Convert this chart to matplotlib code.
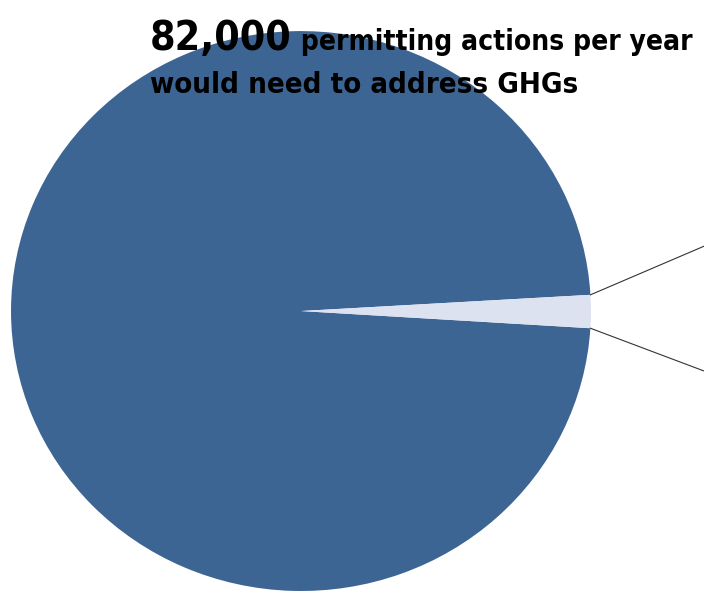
import matplotlib
matplotlib.use("Agg")
import matplotlib.pyplot as plt
from matplotlib import font_manager
import numpy as np

# pie data (share of permitting actions)
labels = ["Other actions", "Addressed"]
values = [98.1, 1.9]
colors = ["#3D6594", "#DCE2F0"]

headline_number = "82,000"
headline_rest = " permitting actions per year"
headline_line2 = "would need to address GHGs"

# prefer a condensed bold face if one is installed
fp = font_manager.FontProperties(family="DejaVu Sans", stretch="condensed",
                                 weight="bold")
path = font_manager.findfont(fp, fallback_to_default=True)
if "Condensed" in path:
    head_font = dict(family="DejaVu Sans", fontstretch="condensed")
else:
    head_font = dict(family="Liberation Sans")

fig = plt.figure(figsize=(7.04, 5.91), dpi=100)
ax = fig.add_axes([0, 0, 1, 1])

# small slice centred slightly below horizontal, on the right
start = values[1] / 100 * 360 / 2 - 0.1
wedges, _ = ax.pie(values, colors=colors, startangle=start,
                   wedgeprops=dict(linewidth=0))

ax.set_aspect("auto")
ax.set_xlim(-1.038, 1.390)
ax.set_ylim(-1.0, 1.111)
ax.axis("off")

# connector lines from the small slice to the (cut off) second chart
sw = wedges[1]
for ang, target in [(sw.theta1, (1.40, -0.218)), (sw.theta2, (1.40, 0.236))]:
    x0, y0 = np.cos(np.radians(ang)), np.sin(np.radians(ang))
    ax.plot([x0, target[0]], [y0, target[1]], color="#333333", lw=0.8,
            clip_on=False)

fig.canvas.draw()
renderer = fig.canvas.get_renderer()


def fitted(text, x, y, size, width):
    t = fig.text(x, y, text, fontsize=size, fontweight="bold",
                 va="baseline", ha="left", **head_font)
    w = t.get_window_extent(renderer).width
    if w > width:
        t.set_fontsize(size * width / w)
    return t


t1 = fitted(headline_number, 150 / 704, 1 - 50 / 591, 37, 142)
bb = t1.get_window_extent(renderer)
fitted(headline_rest, bb.x1 / 704, 1 - 50 / 591, 24, 400)
fitted(headline_line2, 150 / 704, 1 - 93 / 591, 24, 428)

fig.savefig("out.png", dpi=100)
